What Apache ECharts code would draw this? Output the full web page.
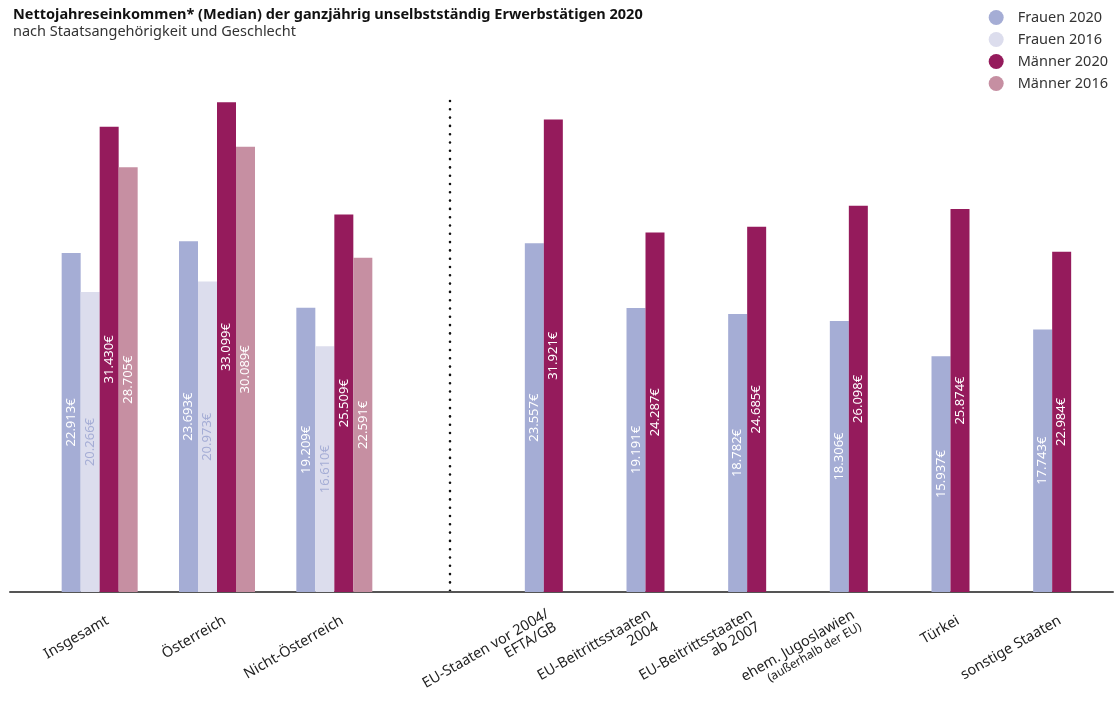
<!DOCTYPE html>
<html>
<head>
<meta charset="utf-8">
<script src="https://cdn.jsdelivr.net/npm/echarts@6/dist/echarts.min.js"></script>
<style>html,body{margin:0;padding:0;background:#fff}#c{width:1117px;height:703px}</style>
</head>
<body>
<div id="c"></div>
<script>
var categoriesA = ['Insgesamt', 'Österreich', 'Nicht-Österreich'];
var frauen2020A = [22913, 23693, 19209];
var frauen2016A = [20266, 20973, 16610];
var maenner2020A = [31430, 33099, 25509];
var maenner2016A = [28705, 30089, 22591];

var categoriesB = ['EU-Staaten vor 2004/\nEFTA/GB', 'EU-Beitrittsstaaten\n2004', 'EU-Beitrittsstaaten\nab 2007', 'ehem. Jugoslawien\n(außerhalb der EU)', 'Türkei', 'sonstige Staaten'];
var frauen2020B = [23557, 19191, 18782, 18306, 15937, 17743];
var maenner2020B = [31921, 24287, 24685, 26098, 25874, 22984];

var seriesNames = ['Frauen 2020', 'Frauen 2016', 'Männer 2020', 'Männer 2016'];
var colors = ['#a5add5', '#dcdded', '#951b5c', '#c68fa2'];
var labelColors = ['#ffffff', '#a5add5', '#ffffff', '#ffffff'];

var FONT = 'Noto Sans';
function fmt(v) {
  return String(v).replace(/\B(?=(\d{3})+(?!\d))/g, '.') + '€';
}
function bar(nameIdx, data, axisIdx) {
  return {
    type: 'bar', name: seriesNames[nameIdx], data: data,
    xAxisIndex: axisIdx, yAxisIndex: axisIdx,
    barWidth: 19, barGap: '0%',
    itemStyle: { color: colors[nameIdx] },
    label: {
      show: true, position: 'inside', rotate: 90,
      color: labelColors[nameIdx], fontFamily: FONT, fontSize: 13,
      formatter: function (p) { return fmt(p.value); }
    },
    emphasis: { disabled: true }
  };
}

var chart = echarts.init(document.getElementById('c'), null, { renderer: 'canvas' });
var xLabel = {
  rotate: 30, fontFamily: FONT, fontSize: 14.5, color: '#222', margin: 32, interval: 0,
  lineHeight: 15, padding: [0, -9, 0, 0],
  formatter: function (v) {
    if (v.indexOf('(außerhalb') >= 0) {
      var parts = v.split('\n');
      return '{a|' + parts[0] + '}\n{s|' + parts[1] + '}';
    }
    return v;
  },
  rich: {
    a: { fontFamily: FONT, fontSize: 14.5, color: '#222', lineHeight: 15 },
    s: { fontFamily: FONT, fontSize: 12, color: '#222', lineHeight: 13 }
  }
};
chart.setOption({
  animation: false,
  title: [
    { text: 'Nettojahreseinkommen* (Median) der ganzjährig unselbstständig Erwerbstätigen 2020',
      left: 8, top: 2,
      textStyle: { fontFamily: FONT, fontSize: 14.5, fontWeight: 'bold', color: '#111' } },
    { text: 'nach Staatsangehörigkeit und Geschlecht', left: 8, top: 19,
      textStyle: { fontFamily: FONT, fontSize: 14.5, fontWeight: 'normal', color: '#333' } }
  ],
  legend: {
    orient: 'vertical', right: 4, top: 5, icon: 'circle',
    itemWidth: 33, itemHeight: 15, itemGap: 7,
    data: seriesNames,
    textStyle: { fontFamily: FONT, fontSize: 14.5, color: '#333' }
  },
  grid: [
    { left: 41, width: 352, top: 74, bottom: 111, containLabel: false, outerBoundsMode: 'none' },
    { left: 493, width: 610, top: 74, bottom: 111, containLabel: false, outerBoundsMode: 'none' },
    { left: 10, right: 4, top: 74, bottom: 111, containLabel: false, outerBoundsMode: 'none' }
  ],
  xAxis: [
    { type: 'category', gridIndex: 0, data: categoriesA, axisLine: { show: false }, axisTick: { show: false }, axisLabel: xLabel },
    { type: 'category', gridIndex: 1, data: categoriesB, axisLine: { show: false }, axisTick: { show: false }, axisLabel: xLabel },
    { type: 'value', gridIndex: 2, min: 0, max: 1, axisLine: { show: true, lineStyle: { color: '#555', width: 2 } },
      axisTick: { show: false }, axisLabel: { show: false }, splitLine: { show: false } }
  ],
  yAxis: [
    { type: 'value', gridIndex: 0, min: 0, max: 35000, show: false, splitLine: { show: false } },
    { type: 'value', gridIndex: 1, min: 0, max: 35000, show: false, splitLine: { show: false } },
    { type: 'value', gridIndex: 2, min: 0, max: 1, show: false, splitLine: { show: false } }
  ],
  graphic: [
    { type: 'line', shape: { x1: 450, y1: 101, x2: 450, y2: 592 },
      style: { stroke: '#111', lineWidth: 2.6, lineDash: [0, 8.3], lineCap: 'round' }, silent: true }
  ],
  series: [
    bar(0, frauen2020A, 0), bar(1, frauen2016A, 0), bar(2, maenner2020A, 0), bar(3, maenner2016A, 0),
    bar(0, frauen2020B, 1), bar(2, maenner2020B, 1)
  ]
});
</script>
</body>
</html>
